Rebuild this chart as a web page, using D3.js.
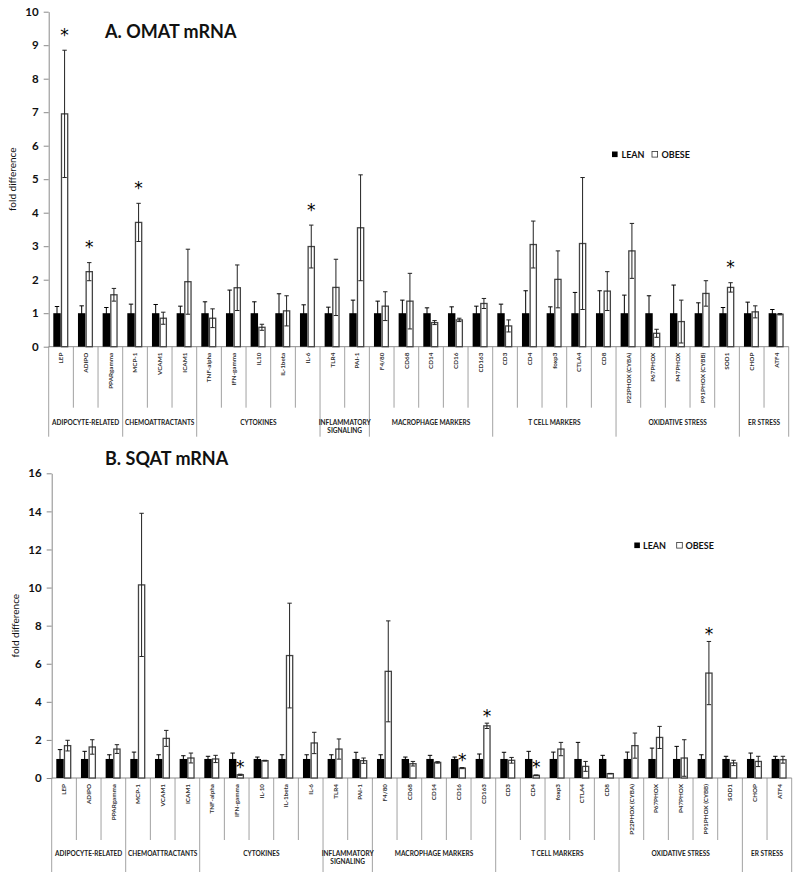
<!DOCTYPE html>
<html>
<head>
<meta charset="utf-8">
<script src="https://cdn.jsdelivr.net/npm/d3@7"></script>
<style>
    body { margin: 0; background: #fff; }
    svg { display: block; }
</style>
</head>
<body>
<div id="chart"></div>
<script>
/* DATA */
const categories = ["LEP", "ADIPO", "PPARgamma", "MCP-1", "VCAM1", "ICAM1", "TNF-alpha", "IFN-gamma", "IL10", "IL-1beta", "IL-6", "TLR4", "PAI-1", "F4/80", "CD68", "CD14", "CD16", "CD163", "CD3", "CD4", "foxp3", "CTLA4", "CD8", "P22PHOX (CYBA)", "P67PHOX", "P47PHOX", "P91PHOX (CYBB)", "SOD1", "CHOP", "ATF4"];
const bottomCategories = categories.map(d => d === "IL10" ? "IL-10" : d);
const groupNames = ["ADIPOCYTE-RELATED", "CHEMOATTRACTANTS", "CYTOKINES", "INFLAMMATORY SIGNALING", "MACROPHAGE MARKERS", "T CELL MARKERS", "OXIDATIVE STRESS", "ER STRESS"];
const groupSizes = [3, 3, 5, 2, 5, 5, 5, 2];
const seriesNames = ["LEAN", "OBESE"];

// A. OMAT
const omatLean = [1, 1, 1, 1, 1, 1, 1, 1, 1, 1, 1, 1, 1, 1, 1, 1, 1, 1, 1, 1, 1, 1, 1, 1, 1, 1, 1, 1, 1, 1];
const omatLeanErr = [0.2, 0.22, 0.17, 0.27, 0.26, 0.21, 0.34, 0.69, 0.34, 0.58, 0.25, 0.18, 0.39, 0.36, 0.39, 0.16, 0.19, 0.21, 0.27, 0.67, 0.19, 0.62, 0.67, 0.54, 0.52, 0.84, 0.31, 0.17, 0.33, 0.11];
const omatObese = [6.95, 2.24, 1.55, 3.71, 0.85, 1.94, 0.85, 1.76, 0.58, 1.07, 2.99, 1.77, 3.55, 1.21, 1.36, 0.72, 0.8, 1.29, 0.62, 3.05, 2.01, 3.08, 1.66, 2.86, 0.4, 0.75, 1.59, 1.77, 1.04, 0.97];
const omatObeseErr = [1.9, 0.27, 0.19, 0.57, 0.18, 0.97, 0.28, 0.68, 0.09, 0.45, 0.64, 0.84, 1.58, 0.43, 0.83, 0.06, 0.05, 0.15, 0.18, 0.7, 0.85, 1.97, 0.58, 0.82, 0.12, 0.64, 0.38, 0.14, 0.18, 0.02];
const omatStars = ["LEP", "ADIPO", "MCP-1", "IL-6", "SOD1"];
const omatTicks = [0, 1, 2, 3, 4, 5, 6, 7, 8, 9, 10];

// B. SQAT
const sqatLean = [1, 1, 1, 1, 1, 1, 1, 1, 1, 1, 1, 1, 1, 1, 1, 1, 1, 1, 1, 1, 1, 1, 1, 1, 1, 1, 1, 1, 1, 1];
const sqatLeanErr = [0.49, 0.4, 0.22, 0.36, 0.22, 0.17, 0.14, 0.31, 0.1, 0.22, 0.22, 0.22, 0.35, 0.22, 0.1, 0.19, 0.1, 0.26, 0.35, 0.4, 0.36, 0.87, 0.19, 0.36, 0.57, 0.66, 0.22, 0.14, 0.31, 0.14];
const sqatObese = [1.7, 1.63, 1.52, 10.14, 2.08, 1.05, 1.0, 0.17, 0.91, 6.43, 1.84, 1.52, 0.91, 5.6, 0.75, 0.82, 0.52, 2.74, 0.93, 0.14, 1.52, 0.61, 0.23, 1.7, 2.13, 1.05, 5.51, 0.79, 0.87, 0.96];
const sqatObeseErr = [0.28, 0.38, 0.23, 3.76, 0.42, 0.26, 0.19, 0.03, 0.02, 2.75, 0.56, 0.53, 0.14, 2.65, 0.12, 0.04, 0.03, 0.14, 0.15, 0.02, 0.35, 0.26, 0.01, 0.66, 0.58, 0.96, 1.66, 0.14, 0.27, 0.18];
const sqatStars = ["IFN-gamma", "CD16", "CD163", "CD4", "P91PHOX (CYBB)"];
const sqatTicks = [0, 2, 4, 6, 8, 10, 12, 14, 16];

/* GENERAL */
const W = 800, H = 881;
const font = "Lato, 'Open Sans', sans-serif";
const gray = "#8a8a8a";

const svg = d3.select("#chart")
    .append("svg")
    .attr("width", W)
    .attr("height", H)
    .attr("viewBox", `0 0 ${W} ${H}`);
svg.append("rect").attr("width", W).attr("height", H).attr("fill", "#fff");

// Wrap long group labels onto several lines (thresh is a function of the index)
function wrapLine(text, thresh) {
    text.each(function (d, i) {
        const txt = d3.select(this);
        const words = txt.text().split(/\s+/).reverse();
        const x = txt.attr("x");
        const limit = thresh(i);
        let line = [], word;
        let tspan = txt.text(null).append("tspan").attr("x", x).attr("dy", 0);
        while (word = words.pop()) {
            line.push(word);
            tspan.text(line.join(" "));
            if (tspan.node().getComputedTextLength() > limit && line.length > 1) {
                line.pop();
                tspan.text(line.join(" "));
                line = [word];
                tspan = txt.append("tspan").attr("x", x).attr("dy", "1.2em").text(word);
            }
        }
    });
}

function generateGraph(cfg) {
    const g = svg.append("g");
    // Scales
    const x = d3.scaleBand().domain(cfg.cats).range([cfg.left, cfg.right]);
    const xs = d3.scaleBand().domain(seriesNames).range([4.6, 19.6]).paddingInner(0.02);
    const y = d3.scaleLinear().domain([0, cfg.max]).range([cfg.bottom, cfg.top]);

    // Y axis
    const yAxis = g.append("g")
        .attr("transform", `translate(${cfg.left},0)`)
        .call(d3.axisLeft(y).tickValues(cfg.ticks).tickSize(5).tickSizeOuter(0).tickPadding(5));
    yAxis.select(".domain").attr("stroke", gray);
    yAxis.selectAll(".tick line").attr("stroke", gray);
    yAxis.selectAll("text")
        .attr("font-family", font)
        .attr("font-size", 11.5)
        .attr("font-weight", "bold")
        .attr("fill", "#111");

    // Axis title
    g.append("text")
        .attr("transform", `translate(${cfg.titleX},${(cfg.top + cfg.bottom) / 2}) rotate(-90)`)
        .attr("text-anchor", "middle")
        .attr("dominant-baseline", "middle")
        .attr("font-family", font)
        .attr("font-size", 10)
        .attr("fill", "#111")
        .text("fold difference");

    // Chart title
    g.append("text")
        .attr("x", 105)
        .attr("y", cfg.headY)
        .attr("font-family", font)
        .attr("font-size", 18)
        .attr("font-weight", "bold")
        .attr("fill", "#111")
        .text(cfg.title);

    // Category dividers
    const bw = x.bandwidth();
    let starts = [0];
    groupSizes.forEach((s, i) => starts.push(starts[i] + s));
    const groupEdges = new Set(starts);
    const edges = d3.range(cfg.cats.length + 1);
    g.selectAll(".div")
        .data(edges)
        .join("line")
        .attr("x1", d => cfg.left + d * bw)
        .attr("x2", d => cfg.left + d * bw)
        .attr("y1", cfg.bottom)
        .attr("y2", d => cfg.bottom + (groupEdges.has(d) ? cfg.longDiv : cfg.shortDiv))
        .attr("stroke", gray)
        .attr("stroke-width", 0.8);
    // Baseline
    g.append("line")
        .attr("x1", cfg.left).attr("x2", cfg.right)
        .attr("y1", cfg.bottom).attr("y2", cfg.bottom)
        .attr("stroke", gray);

    // Category labels
    g.selectAll(".cat")
        .data(cfg.cats)
        .join("text")
        .attr("transform", d => `translate(${x(d) + bw / 2 + 2.2},${cfg.bottom + 6}) rotate(-90)`)
        .attr("text-anchor", "end")
        .attr("font-family", font)
        .attr("font-size", 6.3)
        .attr("font-weight", "bold")
        .attr("fill", "#333")
        .text(d => d);

    // Group labels
    g.selectAll(".grp")
        .data(groupNames)
        .join("text")
        .attr("x", (d, i) => cfg.left + (starts[i] + groupSizes[i] / 2) * bw)
        .attr("y", cfg.bottom + cfg.groupY)
        .attr("text-anchor", "middle")
        .attr("font-family", font)
        .attr("font-size", 6.5)
        .attr("font-weight", "bold")
        .attr("fill", "#222")
        .text(d => d)
        .call(wrapLine, i => groupSizes[i] * bw - 4);

    // Bars
    const rows = cfg.cats.map((c, i) => ({
        cat: c,
        vals: [
            { s: "LEAN", v: cfg.lean[i], e: cfg.leanErr[i] },
            { s: "OBESE", v: cfg.obese[i], e: cfg.obeseErr[i] }
        ]
    }));
    const cg = g.selectAll(".cg")
        .data(rows)
        .join("g")
        .attr("transform", d => `translate(${x(d.cat)},0)`);
    cg.selectAll("rect")
        .data(d => d.vals)
        .join("rect")
        .attr("x", d => xs(d.s) + (d.s === "OBESE" ? 0.6 : 0))
        .attr("y", d => y(d.v))
        .attr("width", d => xs.bandwidth() - (d.s === "OBESE" ? 1.2 : 0))
        .attr("height", d => y(0) - y(d.v))
        .attr("fill", d => d.s === "LEAN" ? "#000" : "#fff")
        .attr("stroke", d => d.s === "LEAN" ? "none" : "#444")
        .attr("stroke-width", 1.3);
    // Error bars
    const eb = cg.selectAll(".eb")
        .data(d => d.vals)
        .join("g")
        .attr("stroke", d => d.s === "LEAN" ? "#000" : "#222")
        .attr("stroke-width", 1);
    eb.append("line")
        .attr("x1", d => xs(d.s) + xs.bandwidth() / 2)
        .attr("x2", d => xs(d.s) + xs.bandwidth() / 2)
        .attr("y1", d => y(Math.max(0, d.v - d.e)))
        .attr("y2", d => y(d.v + d.e));
    [1, -1].forEach(sign => {
        eb.append("line")
            .attr("x1", d => xs(d.s) + xs.bandwidth() / 2 - 2.2)
            .attr("x2", d => xs(d.s) + xs.bandwidth() / 2 + 2.2)
            .attr("y1", d => y(Math.max(0, d.v + sign * d.e)))
            .attr("y2", d => y(Math.max(0, d.v + sign * d.e)));
    });

    // Significance stars
    g.selectAll(".star")
        .data(cfg.stars)
        .join("text")
        .attr("x", d => x(d) + xs("OBESE") + xs.bandwidth() / 2)
        .attr("y", d => {
            const i = cfg.cats.indexOf(d);
            return y(cfg.obese[i] + cfg.obeseErr[i]) - cfg.starGap + 9.5;
        })
        .attr("text-anchor", "middle")
        .attr("font-family", "'DejaVu Sans', sans-serif")
        .attr("font-size", 17)
        .attr("fill", "#000")
        .text("*");

    // Legend
    const lg = g.append("g").attr("transform", `translate(${cfg.legX},${cfg.legY})`);
    seriesNames.forEach((s, i) => {
        const ox = i * cfg.legStep;
        lg.append("rect")
            .attr("x", ox).attr("y", -6)
            .attr("width", 5.6).attr("height", 5.6)
            .attr("fill", i === 0 ? "#000" : "#fff")
            .attr("stroke", i === 0 ? "none" : "#333")
            .attr("stroke-width", 0.8);
        lg.append("text")
            .attr("x", ox + cfg.legGap).attr("y", 0)
            .attr("font-family", font)
            .attr("font-size", 9)
            .attr("font-weight", "bold")
            .attr("fill", "#111")
            .text(s);
    });
}

generateGraph({
    title: "A. OMAT mRNA", headY: 37.5,
    cats: categories,
    lean: omatLean, leanErr: omatLeanErr, obese: omatObese, obeseErr: omatObeseErr,
    stars: omatStars, ticks: omatTicks, max: 10,
    left: 48.7, right: 788.7, top: 11.7, bottom: 346.7,
    titleX: 13, shortDiv: 61, longDiv: 90, groupY: 78,
    starGap: 19,
    legX: 612, legY: 157.5, legStep: 40, legGap: 9.5
});

generateGraph({
    title: "B. SQAT mRNA", headY: 465,
    cats: bottomCategories,
    lean: sqatLean, leanErr: sqatLeanErr, obese: sqatObese, obeseErr: sqatObeseErr,
    stars: sqatStars, ticks: sqatTicks, max: 16,
    left: 51.7, right: 791.7, top: 473.3, bottom: 778,
    titleX: 16, shortDiv: 62, longDiv: 94, groupY: 78,
    starGap: 11,
    legX: 634.3, legY: 548.5, legStep: 42.4, legGap: 8.7
});
</script>
</body>
</html>
